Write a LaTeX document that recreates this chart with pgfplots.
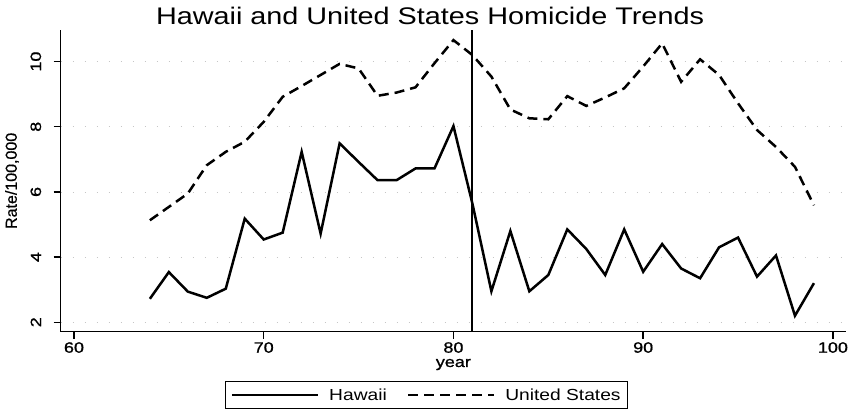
\documentclass[border=0pt]{standalone}
\usepackage{fontspec}
\setmainfont{Liberation Sans}[FakeStretch=1.2]
\newfontfamily\tickfont{Liberation Sans}[FakeStretch=1.2, FakeBold=1]
\newfontfamily\ylabfont{Liberation Sans}[FakeBold=0.6]
\usepackage{pgfplots}
\pgfplotsset{compat=1.18}
\pgfplotstableread{
year rate
64 2.72
65 3.54
66 2.94
67 2.75
68 3.03
69 5.18
70 4.54
71 4.75
72 7.23
73 4.72
74 7.49
75 6.92
76 6.36
77 6.36
78 6.72
79 6.72
80 8.02
81 5.64
82 2.95
83 4.80
84 2.95
85 3.45
86 4.85
87 4.25
88 3.45
89 4.85
90 3.55
91 4.40
92 3.65
93 3.35
94 4.30
95 4.60
96 3.40
97 4.05
98 2.20
99 3.20
}\hawaii
\pgfplotstableread{
year rate
64 5.13
65 5.54
66 5.95
67 6.82
68 7.23
69 7.54
70 8.15
71 8.92
72 9.25
73 9.59
74 9.93
75 9.79
76 8.95
77 9.05
78 9.21
79 9.95
80 10.66
81 10.20
82 9.54
83 8.53
84 8.26
85 8.23
86 8.94
87 8.64
88 8.90
89 9.18
90 9.85
91 10.56
92 9.38
93 10.07
94 9.59
95 8.72
96 7.90
97 7.38
98 6.77
99 5.59
}\us
\begin{document}
\begin{tikzpicture}
\useasboundingbox (0pt,0pt) rectangle (856pt,411pt);
\node[font=\fontsize{24}{28}\selectfont, anchor=center] at (430pt,395pt) {Hawaii and United States Homicide Trends};
\begin{axis}[
  at={(60.7pt,79.3pt)}, anchor=south west,
  width=785.3pt, height=301.7pt, scale only axis,
  xmin=59.3, xmax=100.69, ymin=1.71, ymax=10.97,
  axis x line*=bottom, axis y line*=left,
  axis line style={line width=1.5pt, -},
  xtick={60,70,80,90,100}, ytick={2,4,6,8,10},
  tick align=outside, major tick length=7pt,
  tick style={line width=1.4pt, black},
  ymajorgrids, grid style={gray!45, line width=0.6pt, dash pattern=on 1pt off 11pt},
  tick label style={font=\tickfont\fontsize{15}{18}\selectfont},
  /pgf/number format/assume math mode=true,
  yticklabel style={rotate=90, anchor=south, yshift=9pt},
  xlabel={year}, ylabel={Rate/100,000},
  every axis x label/.style={at={(axis description cs:0.5,-0.117)}, anchor=base, font=\tickfont\fontsize{15}{18}\selectfont},
  every axis y label/.style={at={(axis description cs:-0.062,0.5)}, rotate=90, anchor=center, font=\ylabfont\fontsize{16}{18}\selectfont},
  legend columns=2,
  legend style={at={(0.466,-0.164)}, anchor=north, draw=black, line width=1pt,
    font=\fontsize{16}{19}\selectfont, inner xsep=5pt, inner ysep=5pt,
    /tikz/every odd column/.append style={column sep=8pt},
    /tikz/every even column/.append style={column sep=18pt}},
  legend image code/.code={\draw[#1] (0pt,0pt) -- (86pt,0pt);},
]
\addplot[black, line width=2.5pt] table[x=year, y=rate] {\hawaii};
\addlegendentry{Hawaii}
\addplot[black, line width=2.5pt, dash pattern=on 10pt off 6pt] table[x=year, y=rate] {\us};
\addlegendentry{United States}
\addplot[black, line width=2pt, forget plot] coordinates {(81,1.71) (81,10.97)};
\end{axis}
\end{tikzpicture}
\end{document}
